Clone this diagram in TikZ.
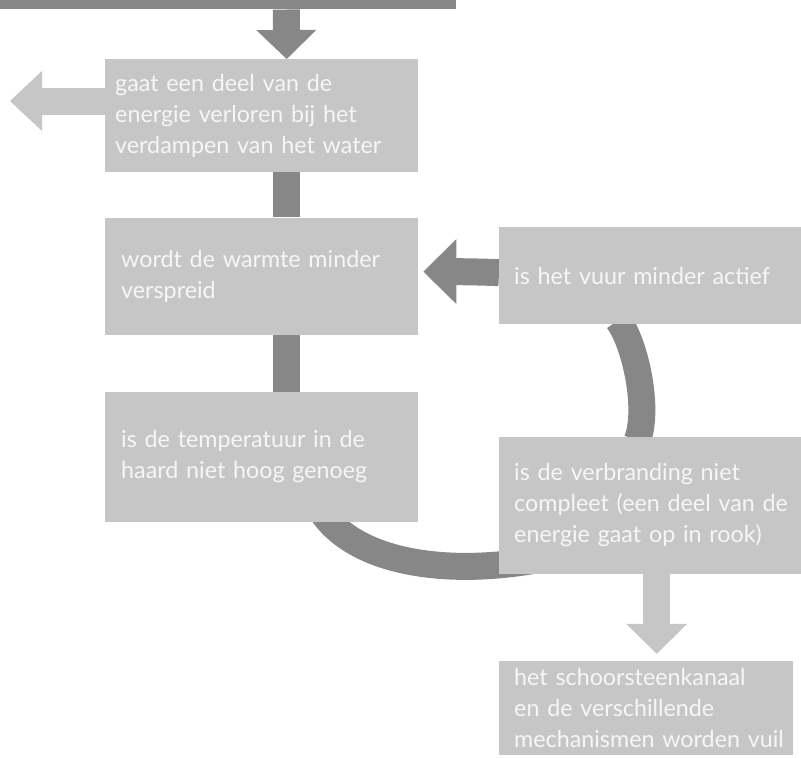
\documentclass[tikz,border=0pt]{standalone}
\usepackage{fontspec}
\setmainfont{Lato}
\usetikzlibrary{arrows.meta, positioning}
\definecolor{boxgray}{RGB}{198,198,198}
\definecolor{bargray}{RGB}{135,135,135}
\definecolor{boxtext}{RGB}{246,246,246}
\pgfdeclarelayer{bg}
\pgfsetlayers{bg,main}

\begin{document}
\begin{tikzpicture}[x=1pt, y=-1pt,
    flowbox/.style={fill=boxgray, text=boxtext, font=\fontsize{23.3}{31}\selectfont, align=left, anchor=north west, inner xsep=16pt, inner ysep=0pt},
    darkbar/.style={draw=bargray, line width=27pt},
    lightbar/.style={draw=boxgray, line width=27pt}]
  \newcommand\barheadwidth{60pt} % 65pt for the side arrow
  \newcommand\barheadlength{30pt}

  \useasboundingbox (0, 0) rectangle (801, 758);

  \node[fill=bargray, inner sep=0pt, minimum width=480pt, minimum height=40pt, anchor=south east] at (456, 9.5) (top) {};
  \node[flowbox, inner xsep=10pt, text width=293pt, minimum height=113pt] at (105, 59) (evap) {gaat een deel van de\\energie verloren bij het\\verdampen van het water};
  \node[flowbox, text width=281pt, minimum height=117pt, below=45pt of evap.south west, anchor=north west] (spread) {wordt de warmte minder\\verspreid};
  \node[flowbox, text width=281pt, minimum height=130pt, below=57pt of spread.south west, anchor=north west] (temp) {is de temperatuur in de\\haard niet hoog genoeg};

  \node[flowbox, inner xsep=15pt, text width=290pt, minimum height=97pt] at (499, 227) (fire) {is het vuur minder actief};
  \node[flowbox, inner xsep=15pt, text width=290pt, minimum height=137pt, below=112pt of fire.south west, anchor=north west] (burn) {is de verbranding niet\\compleet (een deel van de\\energie gaat op in rook)};
  \node[flowbox, inner xsep=15pt, text width=264pt, minimum height=94pt, below=87pt of burn.south west, anchor=north west] (soot) {het schoorsteenkanaal\\en de verschillende\\\mbox{mechanismen worden vuil}};

  \coordinate (lost) at (10, 101);

  \begin{pgfonlayer}{bg}
    \draw[darkbar, -{Triangle[width=\barheadwidth, length=29pt, line width=0pt]}] ([xshift=70.5pt]top.south) -- ([xshift=25pt]evap.north);
    \draw[darkbar] ([xshift=25pt]evap.south) -- ([xshift=25pt]spread.north);
    \draw[darkbar] ([xshift=25pt]spread.south) -- ([xshift=25pt]temp.north);
    \draw[lightbar, -{Triangle[width=\barheadwidth, length=32pt, line width=0pt]}] (evap.west |- lost) -- (lost);

    \draw[darkbar, -{Triangle[width=65pt, length=33pt, line width=0pt]}] ([yshift=3pt]fire.west) .. controls +(-20, -1) and +(20, 0) .. ([xshift=5pt, yshift=4.5pt]spread.east);
    \draw[darkbar] ([xshift=-41pt, yshift=4pt]fire.south) .. controls +(18, 25) and +(12, -30) .. ([xshift=-22pt, yshift=-4pt]burn.north);
    \draw[darkbar] ([xshift=58.5pt, yshift=13pt]temp.south) .. controls +(32, 52) and +(-90, 15) .. ([xshift=32pt, yshift=13pt]burn.south west);
    \draw[lightbar, -{Triangle[width=61pt, length=\barheadlength, line width=0pt]}] ([xshift=-2.5pt]burn.south) -- ([xshift=10.5pt, yshift=7pt]soot.north);
  \end{pgfonlayer}
\end{tikzpicture}
\end{document}
